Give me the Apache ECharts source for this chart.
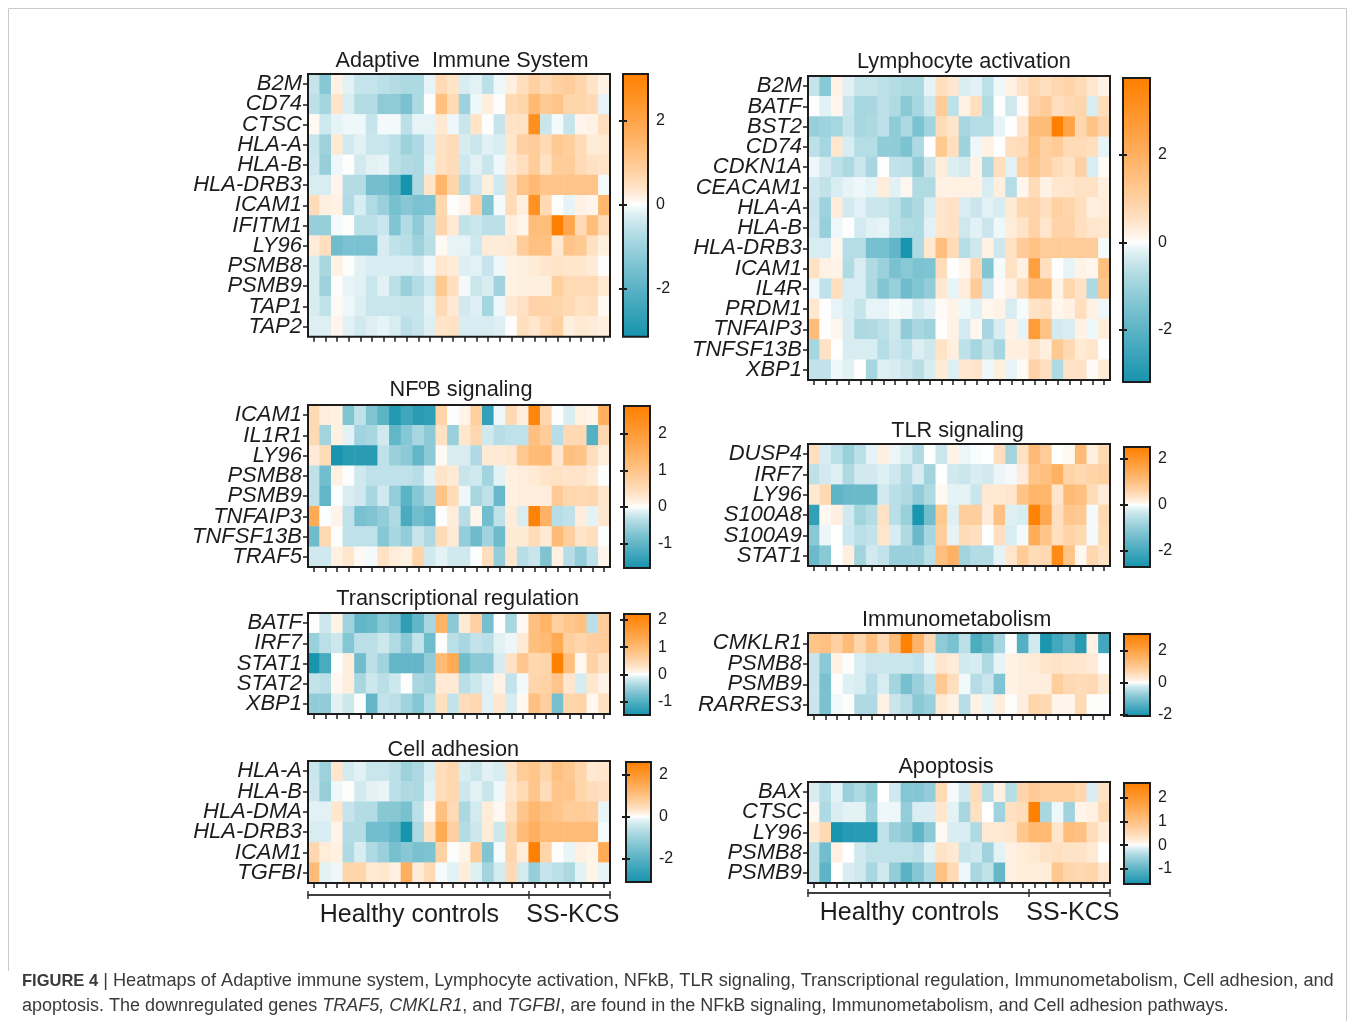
<!DOCTYPE html>
<html>
<head>
<meta charset="utf-8">
<script src="https://cdn.jsdelivr.net/npm/echarts@6/dist/echarts.min.js"></script>
<style>html,body{margin:0;padding:0;background:#fff;}#chart{width:1354px;height:1021px;}</style>
</head>
<body>
<div id="chart"></div>
<script>
// ---------------- DATA ----------------
const samples = ['HC1','HC2','HC3','HC4','HC5','HC6','HC7','HC8','HC9','HC10','HC11','HC12','HC13','HC14','HC15','HC16','HC17','HC18','HC19','SS1','SS2','SS3','SS4','SS5','SS6','SS7'];
const groups = ['Healthy controls', 'SS-KCS'];
const groupSizes = [19, 7];

const B2M      = [-0.5,-1.3,0.15,-0.2,-0.5,-0.5,-0.6,-0.7,-0.8,-0.8,-0.15,0.6,0.4,-0.3,-0.2,-0.6,-0.1,0.2,0.5,0.8,0.6,0.8,0.9,0.7,0.4,0.15];
const CD74     = [-0.6,-0.9,0.4,-0.3,-0.7,-0.7,-1.2,-1.2,-1.5,-0.8,0,1.2,0.6,-1.0,-0.1,0.2,0,0.6,0.7,1.4,1.0,1.1,0.7,0.7,0.6,-0.15];
const CTSC     = [0.05,-0.4,-0.15,-0.1,-0.1,-0.5,-0.05,-0.05,-0.6,-0.15,-0.15,0.3,-0.1,-0.45,0.4,0,-0.5,0.4,0.45,2.6,-0.45,-0.05,-0.5,0.1,0.15,0.5];
const HLA_A    = [-0.45,-1.0,0.3,-0.35,-0.2,-0.45,-0.45,-0.6,-1.0,-0.8,-0.3,0.45,0.55,-0.3,-0.45,-0.2,-0.3,0.35,0.8,0.9,0.6,1.0,0.85,0.6,0.25,0.3];
const HLA_B    = [-0.4,-1.1,-0.1,0,-0.35,-0.2,-0.15,-0.6,-0.75,-0.8,-0.2,0.45,0.55,-0.4,-0.2,-0.45,-0.1,0.3,0.5,0.9,0.45,0.9,0.9,0.6,0.45,0.4];
const HLA_DRB3 = [-0.3,-0.3,0.1,-0.7,-0.7,-1.6,-1.6,-1.9,-3.15,-0.8,0.4,1.5,0.7,-0.7,-0.4,0.2,-0.4,0.55,1.1,1.4,1.1,1.1,1.1,1.1,1.1,-0.05];
const ICAM1    = [0.55,0.2,0.15,-0.75,-0.3,-0.75,-1.05,-1.55,-1.3,-1.5,-1.45,0.65,0,0.1,0.75,-1.4,-0.05,0.55,0.2,2.55,0.6,0,-0.15,0.15,0.1,1.5];
const IFITM1   = [-1.1,-1.1,-0.05,0,-0.6,-0.6,-0.45,-1.4,-0.7,-1.2,-0.6,0.7,0.3,-0.55,-0.45,-0.6,-0.6,0.2,0.1,1.3,1.3,3.1,1.9,0.6,1.3,0.6];
const LY96     = [0.25,0.5,-1.65,-1.5,-1.5,-1.5,-0.3,-0.55,-0.65,-1.0,-0.65,0.05,-0.15,-0.15,-0.4,0.25,0.25,0.3,0.9,1.2,1.2,0.3,1.1,1.0,0.45,0.2];
const PSMB8    = [-0.3,-0.85,0.15,0,-0.2,-0.3,-0.3,-0.3,-0.3,-0.35,-0.1,0.35,0.25,-0.25,-0.2,-0.5,-0.1,0.15,0.2,0.25,0.35,0.4,0.35,0.35,0.25,0];
const PSMB9    = [-0.3,-1.0,0,-0.15,-0.2,-0.45,-0.2,-0.6,-1.05,-0.7,-0.4,1.0,0.5,-0.05,-0.45,-0.3,-0.95,0.15,0.2,0.2,0.2,0.85,0.6,0.55,0.6,0.3];
const TAP1     = [-0.3,-0.55,0.05,-0.1,-0.25,-0.45,-0.45,-0.45,-0.5,-0.5,-0.2,0.6,0.3,-0.35,-0.25,-0.9,-0.1,0.3,0.45,0.75,0.75,0.7,0.6,0.45,0.5,0.05];
const TAP2     = [-0.25,-0.25,0.1,-0.2,-0.35,-0.25,-0.15,-0.3,-0.6,-0.5,-0.25,0.4,0.45,-0.3,-0.3,-0.3,-0.25,0,0.5,0.35,0.6,0.8,0.2,0.3,0.25,0.2];
const BATF     = [0,-0.2,0.1,-0.45,-0.9,-0.85,-0.6,-0.75,-1.3,-0.9,-0.4,1.1,-0.6,0.2,0.6,-0.75,0,-0.4,0.05,0.9,1.1,0.6,0.75,0.85,-0.3,0.65];
const BST2     = [-1.1,-1.0,-0.9,-0.5,-0.9,-0.8,-0.6,-1.2,-0.8,-1.5,-0.95,0.7,0.45,-0.9,-0.7,-0.7,-0.15,0,0.45,1.6,1.6,3.75,2.4,0.8,1.4,0.9];
const CDKN1A   = [-0.1,-0.35,-0.6,-0.8,-0.45,-0.85,0,-0.55,-0.6,-1.2,-0.45,0.3,-0.25,-0.35,0.15,-0.8,0.6,-0.2,1.0,1.3,1.0,0.7,0.5,1.0,-0.3,0.05];
const CEACAM1  = [-0.4,-0.55,-0.3,-0.15,-0.1,-0.15,0.3,-0.2,0.1,-0.75,-0.75,0.2,0.2,0.2,0.2,-0.3,0.25,-0.7,0.1,0.7,0.2,0.4,0.45,0.55,0.55,0.25];
const IL4R     = [-0.1,-0.55,0.6,-0.3,-0.3,-0.8,-1.4,-1.1,-1.7,-1.4,-1.15,0.4,-0.15,0.3,1.1,-0.45,0.05,0.2,0.7,1.5,1.5,0.15,0.8,0.5,-0.8,1.3];
const PRDM1    = [0.4,0,-0.15,-0.3,-0.5,-0.15,-0.15,-0.05,-0.1,-0.35,-0.2,0.05,0.15,-0.1,-0.2,0.1,0.15,-0.3,-0.05,0.5,0.6,0.1,0.2,0.6,0.2,-0.1];
const TNFAIP3  = [1.6,0,0.1,-0.3,-0.8,-0.75,-0.6,-0.4,-1.2,-0.85,-1.0,0,0.2,-0.35,0.1,-0.85,-0.3,0.2,-0.15,2.7,1.4,-0.35,-0.3,0.2,-0.1,0.3];
const TNFSF13B = [-0.9,0.55,0,-0.3,-0.3,-0.3,-0.7,-0.45,-0.6,-0.25,-0.4,0.5,0.25,-0.6,-0.9,-0.5,-0.9,0.25,0.25,0.5,0.25,1.2,0.75,0.35,0.45,0];
const XBP1     = [-0.55,-0.55,-0.1,-0.2,0,-0.9,-0.25,-0.3,-0.45,-0.65,-0.3,0.35,-0.25,0.4,0.45,-0.1,0.25,-0.15,0.05,0.9,0.6,-0.75,0.5,0.55,0.05,0.35];
const IL1R1    = [0.55,-0.5,0.15,-0.1,-0.5,-0.45,-0.2,-1.0,-0.7,-0.45,-0.65,0.4,-0.55,0.3,0.6,-0.2,-0.35,-0.3,-0.3,1.1,0.8,-0.35,0.55,0.55,-1.1,0.6];
const TRAF5    = [-0.2,-0.2,0.15,0.3,0.05,-0.03,0.4,0.2,0.15,0.65,-0.2,-0.1,-0.2,-0.2,0,0.45,-0.6,0.3,-0.35,-0.25,-0.75,0.15,-0.35,-0.6,-0.3,0.1];
const DUSP4    = [0.4,-0.25,-0.55,-0.9,-0.55,-0.15,0.15,-0.1,-0.25,-0.65,0,-0.4,0.1,-0.1,-0.03,0,0.4,-0.8,0.35,1.1,0.75,0,0.05,1.1,0.15,0.5];
const IRF7     = [-0.5,-0.3,-0.2,-0.65,-0.3,-0.3,-0.2,-0.35,-0.6,-0.25,-0.8,0,-0.3,-0.4,-0.25,-0.3,-0.1,-0.05,0.2,0.9,1.0,1.3,0.6,0.5,0.6,0.65];
const S100A8   = [-2.3,0.05,0.15,-0.3,-0.8,-0.6,0.35,-0.55,-0.9,-2.65,-1.4,0.8,-0.2,0.7,0.7,0.2,0.95,-0.2,-0.25,2.45,1.5,0.4,0.85,0.8,-0.05,0.5];
const S100A9   = [-1.1,-0.1,0,-0.35,-0.55,-0.45,0.3,-0.25,-0.65,-1.5,-0.75,0.7,-0.15,0.45,0.4,0,0.4,-0.25,-0.05,1.4,0.9,0.4,0.6,0.5,-0.05,0.45];
const STAT1    = [-1.5,-1.1,0,0.15,-0.8,-0.3,-0.45,-0.9,-0.9,-0.9,-0.55,1.0,1.3,-0.8,-0.6,-0.6,-0.15,0.3,0.75,0.45,0.5,2.2,0.9,0.05,0.55,0.35];
const STAT2    = [-0.25,-0.3,0.05,0.15,-0.4,-0.2,-0.3,-0.2,0,-0.4,-0.45,0.2,0.2,-0.3,-0.2,-0.1,0.1,-0.25,-0.03,0.5,0.55,0.8,0.25,-0.15,0.25,0.1];
const CMKLR1   = [1.1,1.2,0.8,1.3,0.7,1.2,0.6,1.3,3.0,1.5,0.6,-0.8,-1.0,-0.4,-1.5,-1.2,-0.6,0,-1.4,-0.25,-2.05,-1.6,-1.3,-1.9,0.15,-1.6];
const RARRES3  = [-0.3,-1.0,-0.05,0,-0.5,-0.5,0.15,-0.3,-0.45,-0.85,-0.7,0.3,0.15,-0.45,0.15,-0.1,0.2,0,0.2,0.7,0.6,0.1,0.1,0.6,0,0];
const HLA_DMA  = [-0.2,-0.2,0.3,-0.5,-0.7,-0.7,-1.3,-1.3,-1.5,-0.6,0.05,1.0,0.5,-0.8,-0.35,0.2,0.05,0.4,0.9,1.2,1.0,0.9,0.75,0.8,0.7,-0.15];
const TGFBI    = [1.1,-0.2,-0.1,0.6,0.6,0.25,0.3,0.15,1.4,0.2,0.5,-0.05,-0.2,0.2,-0.25,-0.9,-0.35,0.5,-0.35,-1.1,-0.5,-0.6,-0.8,-0.2,0.1,-0.15];
const BAX      = [-0.15,-0.35,-0.1,-0.55,-0.4,-0.6,0,-0.2,-0.7,-0.7,-0.6,0.5,-0.03,-0.2,0.45,-0.35,0.15,-0.35,0.6,0.8,0.7,0.7,0.7,0.55,-0.15,0.35];

const panelTitles = ['Adaptive  Immune System','Lymphocyte activation','NFºB signaling','TLR signaling','Transcriptional regulation','Immunometabolism','Cell adhesion','Apoptosis'];
const panelGenes = [
  ['B2M','CD74','CTSC','HLA-A','HLA-B','HLA-DRB3','ICAM1','IFITM1','LY96','PSMB8','PSMB9','TAP1','TAP2'],
  ['B2M','BATF','BST2','CD74','CDKN1A','CEACAM1','HLA-A','HLA-B','HLA-DRB3','ICAM1','IL4R','PRDM1','TNFAIP3','TNFSF13B','XBP1'],
  ['ICAM1','IL1R1','LY96','PSMB8','PSMB9','TNFAIP3','TNFSF13B','TRAF5'],
  ['DUSP4','IRF7','LY96','S100A8','S100A9','STAT1'],
  ['BATF','IRF7','STAT1','STAT2','XBP1'],
  ['CMKLR1','PSMB8','PSMB9','RARRES3'],
  ['HLA-A','HLA-B','HLA-DMA','HLA-DRB3','ICAM1','TGFBI'],
  ['BAX','CTSC','LY96','PSMB8','PSMB9']
];
const panelRanges = [[-3.14,3.1],[-3.19,3.75],[-1.66,2.75],[-2.7,2.49],[-1.5,2.22],[-2.1,3.05],[-3.13,2.59],[-1.64,2.62]];
const colorbarTicks = [[-2,0,2],[-2,0,2],[-1,0,1,2],[-2,0,2],[-1,0,1,2],[-2,0,2],[-2,0,2],[-1,0,1,2]];

const geneTable = {
  'B2M':B2M,'CD74':CD74,'CTSC':CTSC,'HLA-A':HLA_A,'HLA-B':HLA_B,'HLA-DRB3':HLA_DRB3,'ICAM1':ICAM1,'IFITM1':IFITM1,
  'LY96':LY96,'PSMB8':PSMB8,'PSMB9':PSMB9,'TAP1':TAP1,'TAP2':TAP2,'BATF':BATF,'BST2':BST2,'CDKN1A':CDKN1A,
  'CEACAM1':CEACAM1,'IL4R':IL4R,'PRDM1':PRDM1,'TNFAIP3':TNFAIP3,'TNFSF13B':TNFSF13B,'XBP1':XBP1,'IL1R1':IL1R1,
  'TRAF5':TRAF5,'DUSP4':DUSP4,'IRF7':IRF7,'S100A8':S100A8,'S100A9':S100A9,'STAT1':STAT1,'STAT2':STAT2,
  'CMKLR1':CMKLR1,'RARRES3':RARRES3,'HLA-DMA':HLA_DMA,'TGFBI':TGFBI,'BAX':BAX
};

// ---------------- LAYOUT / STYLE ----------------
const LAYOUT = [
  {grid:[308,74,302,262.7],  bar:[623,74,25,262.7],  title:[462,61.5]},
  {grid:[808,76,302,304],    bar:[1123,78,27,304],   title:[964,62]},
  {grid:[308,405,302,162],   bar:[624,406,26,162],   title:[461,390.5]},
  {grid:[808,444,302,122],   bar:[1124,447,26,120],  title:[957.5,431]},
  {grid:[308,613,302,101],   bar:[624,614,26,101],   title:[457.7,599.5]},
  {grid:[808,633,302,82],    bar:[1124,634,26,82],   title:[956.7,619.7]},
  {grid:[308,761,302,122],   bar:[626,762,25,120],   title:[453.3,750]},
  {grid:[808,782,302,101],   bar:[1124,783,26,101],  title:[946,767]}
];
const BRACKETS = [{panel:6, offset:12}, {panel:7, offset:10}];
const TEAL = [24,148,174], ORANGE = [255,128,0], WHITE = [255,255,255];
const GAMMA = 0.75;   // colour-scale response
const FONT = 'Liberation Sans';
const INK = '#1c1c1c';

function mix(a, b, t) {
  t = Math.max(0, Math.min(1, t));
  return 'rgb(' + a.map((v, i) => Math.round(v + (b[i] - v) * t)).join(',') + ')';
}
function colorFor(v, lo, hi) {
  return v < 0 ? mix(WHITE, TEAL, Math.pow(v / lo, GAMMA)) : mix(WHITE, ORANGE, Math.pow(v / hi, GAMMA));
}
function ramp(lo, hi, n) {
  const out = [];
  for (let i = 0; i < n; i++) out.push(colorFor(lo + (hi - lo) * i / (n - 1), lo, hi));
  return out;
}
function gradStops(lo, hi, n) {
  const stops = [];
  for (let i = 0; i < n; i++) {
    const f = i / (n - 1);
    stops.push({offset:f, color:colorFor(hi - (hi - lo) * f, lo, hi)});
  }
  stops.push({offset:hi / (hi - lo), color:'#ffffff'});
  stops.sort((a, b) => a.offset - b.offset);
  return stops;
}

const grid = [], xAxis = [], yAxis = [], series = [], visualMap = [], graphic = [];
const N = panelTitles.length;

for (let p = 0; p < N; p++) {
  const L = LAYOUT[p];
  const genes = panelGenes[p];
  const [lo, hi] = panelRanges[p];
  grid.push({left:L.grid[0], top:L.grid[1], width:L.grid[2], height:L.grid[3], show:true, z:10,
             borderColor:INK, borderWidth:2, backgroundColor:'rgba(0,0,0,0)', containLabel:false});
  xAxis.push({type:'category', gridIndex:p, data:samples, position:'bottom',
    axisLine:{show:false}, axisLabel:{show:false, interval:0},
    axisTick:{show:true, alignWithLabel:true, interval:0, length:5, lineStyle:{color:INK, width:1.5}},
    splitLine:{show:false}});
  yAxis.push({type:'category', gridIndex:p, data:genes, inverse:true,
    axisLine:{show:false},
    axisTick:{show:true, alignWithLabel:true, interval:0, length:5, lineStyle:{color:INK, width:1.5}},
    axisLabel:{interval:0, margin:6, fontSize:22, fontStyle:'italic', fontFamily:FONT, color:INK},
    splitLine:{show:false}});
  const data = [];
  genes.forEach((g, r) => geneTable[g].forEach((v, c) => data.push([c, r, v])));
  series.push({type:'heatmap', name:panelTitles[p], xAxisIndex:p, yAxisIndex:p, data:data,
    itemStyle:{borderWidth:0}, emphasis:{disabled:true}, progressive:0});
  visualMap.push({type:'continuous', show:false, seriesIndex:p, dimension:2, min:lo, max:hi,
    inRange:{color:ramp(lo, hi, 201)}});
  graphic.push({type:'text', x:L.title[0], y:L.title[1], z:20,
    style:{text:panelTitles[p], fontSize:21.7, fontFamily:FONT, fill:INK,
      align:'center', verticalAlign:'middle', textAlign:'center', textVerticalAlign:'middle'}});
}

// colorbars
for (let p = 0; p < N; p++) {
  const L = LAYOUT[p];
  const [lo, hi] = panelRanges[p];
  const gi = N + p;
  grid.push({left:L.bar[0], top:L.bar[1], width:L.bar[2], height:L.bar[3], show:true, z:10,
             borderColor:INK, borderWidth:2, backgroundColor:'rgba(0,0,0,0)'});
  xAxis.push({type:'value', gridIndex:gi, min:0, max:1, show:false});
  yAxis.push({type:'value', gridIndex:gi, min:lo, max:hi, position:'right',
    axisLine:{show:false}, splitLine:{show:false}, z:11,
    axisTick:{show:true, inside:true, length:4, customValues:colorbarTicks[p], lineStyle:{color:INK, width:2}},
    axisLabel:{show:true, inside:false, margin:8, customValues:colorbarTicks[p], fontSize:16, fontFamily:FONT, color:INK}});
  series.push({type:'custom', xAxisIndex:gi, yAxisIndex:gi, silent:true, z:3,
    data:[[0.5, lo, hi]],
    renderItem: function (params, api) {
      const vlo = api.value(1), vhi = api.value(2);
      const top = api.coord([0, vhi]);
      const bot = api.coord([0, vlo]);
      const cs = params.coordSys;
      return {type:'rect', shape:{x:cs.x, y:top[1], width:cs.width, height:bot[1]-top[1]},
        style:{fill:new echarts.graphic.LinearGradient(0,0,0,1, gradStops(vlo, vhi, 41))}};
    }});
}
// left inner ticks of colorbars
for (let p = 0; p < N; p++) {
  const [lo, hi] = panelRanges[p];
  yAxis.push({type:'value', gridIndex:N + p, min:lo, max:hi, position:'left', z:11,
    axisLine:{show:false}, splitLine:{show:false}, axisLabel:{show:false},
    axisTick:{show:true, inside:true, length:4, customValues:colorbarTicks[p], lineStyle:{color:INK, width:2}}});
}

// group brackets
const cum = [0];
groupSizes.forEach(s => cum.push(cum[cum.length - 1] + s));
const groupCenters = groupSizes.map((s, i) => cum[i] + s / 2);
BRACKETS.forEach(b => {
  const common = {type:'value', gridIndex:b.panel, position:'bottom', offset:b.offset, min:0, max:samples.length,
    splitLine:{show:false}, axisLine:{show:true, lineStyle:{color:'#333', width:1.5}}};
  xAxis.push(Object.assign({}, common, {
    axisTick:{show:true, inside:false, length:4, customValues:cum, lineStyle:{color:'#333', width:1.5}},
    axisLabel:{show:true, margin:8, customValues:groupCenters, fontSize:25, fontFamily:FONT, color:INK,
      formatter: function (v) { const i = groupCenters.indexOf(v); return i === 0 ? '{hc|' + groups[0] + '}' : '{ss|' + groups[i] + '}'; },
      rich:{hc:{fontSize:25, fontFamily:FONT, color:INK, padding:[0,18,0,0]},
            ss:{fontSize:25, fontFamily:FONT, color:INK, padding:[0,0,0,7]}}}
  }));
  xAxis.push(Object.assign({}, common, {
    axisTick:{show:true, inside:true, length:4, customValues:cum, lineStyle:{color:'#333', width:1.5}},
    axisLabel:{show:false}
  }));
});

// frame + caption
graphic.push({type:'polyline', z:1, shape:{points:[[8.5,971],[8.5,8.5],[1346.5,8.5],[1346.5,1021]]},
  style:{stroke:'#c9c9c9', lineWidth:1, fill:null}});
const capStyle = {fontSize:18.2, fontFamily:FONT, fill:'#3a3a3a'};
graphic.push({type:'text', x:22, y:981, z:20, style:Object.assign({}, capStyle, {
  text:'{b|FIGURE 4} | Heatmaps of Adaptive immune system, Lymphocyte activation, NFkB, TLR signaling, Transcriptional regulation, Immunometabolism, Cell adhesion, and',
  verticalAlign:'middle', textVerticalAlign:'middle',
  rich:{b:Object.assign({}, capStyle, {fontWeight:'bold', fontSize:16.5})}})});
graphic.push({type:'text', x:22, y:1006, z:20, style:Object.assign({}, capStyle, {
  fontSize:18,
  text:'apoptosis. The downregulated genes {i|TRAF5, CMKLR1}, and {i|TGFBI}, are found in the NFkB signaling, Immunometabolism, and Cell adhesion pathways.',
  verticalAlign:'middle', textVerticalAlign:'middle',
  rich:{i:Object.assign({}, capStyle, {fontSize:18, fontStyle:'italic'})}})});

const chart = echarts.init(document.getElementById('chart'), null, {renderer:'canvas'});
chart.setOption({
  backgroundColor:'#ffffff',
  animation:false,
  grid, xAxis, yAxis, series, visualMap, graphic
});
</script>
</body>
</html>
